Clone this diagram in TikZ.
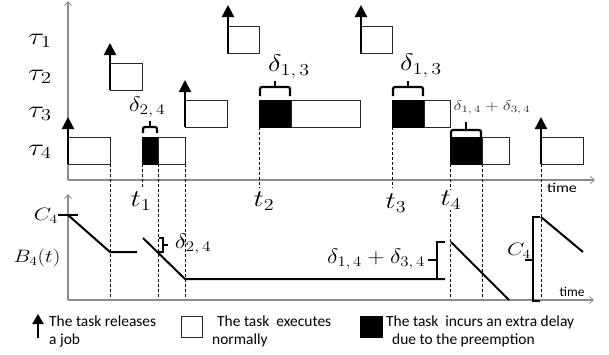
\RequirePackage{fix-cm}
\documentclass[tikz,border=0pt]{standalone}
\usepackage{fontspec}
\setsansfont{Carlito}
\usepackage{graphicx}
\usetikzlibrary{arrows.meta}
\newcommand{\hs}[2][1.25]{\scalebox{#1}[1]{#2}}
\newcommand{\fsz}[1]{\fontsize{#1}{#1}\selectfont}
\tikzset{
  axis/.style={draw=black!45, line width=1.2bp, -{Straight Barb[length=4bp,width=7bp,line width=0.8bp]}},
  tb/.style={draw=black!85, line width=1bp, fill=white},
  bk/.style={draw=black, line width=1bp, fill=black},
  rel/.style={line width=2.2bp, -{Triangle[length=12bp,width=12bp]}},
  dsh/.style={black, line width=0.8bp, dash pattern=on 3bp off 2bp},
  crv/.style={line width=2bp},
  brc/.style={line width=2.2bp, rounded corners=2bp},
  lbl/.style={inner sep=0pt},
  tlbl/.style={inner sep=1bp, fill=white},
  leg/.style={inner sep=0pt, anchor=base west, font=\sffamily\fsz{15.5}},
  tim/.style={inner sep=0pt, font=\sffamily\fsz{13.5}}
}
\begin{document}
\begin{tikzpicture}[x=1bp,y=-1bp]
\useasboundingbox (0,0) rectangle (609,354);
% ---------- top chart
\draw[axis] (68,180) -- (68,1);
\draw[axis] (68,180) -- (595,180);
\node[tim] (time1) at (562,188) {\hs[1.2]{time}};
% task labels
\node[lbl] (tau1) at (40,41) {\fsz{24}\hs{$\tau_1$}};
\node[lbl] (tau2) at (40,77) {\fsz{24}\hs{$\tau_2$}};
\node[lbl] (tau3) at (40,114) {\fsz{24}\hs{$\tau_3$}};
\node[lbl] (tau4) at (40,152) {\fsz{24}\hs{$\tau_4$}};
% dashed guides
\draw[dsh] (110,164) -- (110,300);
\draw[dsh] (142,164) -- (142,188);
\draw[dsh] (158,164) -- (158,300);
\draw[dsh] (185,164) -- (185,300);
\draw[dsh] (259,127) -- (259,188);
\draw[dsh] (392,127) -- (392,188);
\draw[dsh] (450,164) -- (450,300);
\draw[dsh] (482,164) -- (482,300);
\draw[dsh] (541,164) -- (541,300);
% tau4 row
\draw[tb] (68,137) rectangle (110,164);
\draw[bk] (142,137) rectangle (158,164);
\draw[tb] (158,137) rectangle (185,164);
\draw[bk] (450,137) rectangle (482,164);
\draw[tb] (482,137) rectangle (509,164);
\draw[tb] (541,137) rectangle (583,164);
% tau3 row
\draw[tb] (185,100) rectangle (227,127);
\draw[bk] (259,100) rectangle (291,127);
\draw[tb] (291,100) rectangle (360,127);
\draw[bk] (392,100) rectangle (424,127);
\draw[tb] (424,100) rectangle (450,127);
% tau2 row
\draw[tb] (110,63) rectangle (142,90);
% tau1 row
\draw[tb] (227,26) rectangle (259,53);
\draw[tb] (360,26) rectangle (392,53);
% releases
\draw[rel] (68,164) -- (68,117);
\draw[rel] (110,90) -- (110,43);
\draw[rel] (185,127) -- (185,80);
\draw[rel] (228,53) -- (228,5);
\draw[rel] (361,53) -- (361,5);
\draw[rel] (541,164) -- (541,117);
% braces
\draw[brc] (143,133) -- (143,127) -- (157,127) -- (157,133);
\draw[brc] (150,127) -- (150,121);
\draw[brc] (260,96) -- (260,87) -- (290,87) -- (290,96);
\draw[brc] (275,87) -- (275,81);
\draw[brc] (393,96) -- (393,87) -- (423,87) -- (423,96);
\draw[brc] (408,87) -- (408,81);
\draw[brc] (451,137) -- (451,130) -- (481,130) -- (481,137);
\draw[brc] (466,130) -- (466,122);
\node[lbl] (d24) at (147,107) {\fsz{21}\hs[1.2]{$\delta_{2,\,4}$}};
\node[lbl] (d13a) at (289,67) {\fsz{24}\hs[1.2]{$\delta_{1,\,3}$}};
\node[lbl] (d13b) at (421,66) {\fsz{24}\hs[1.2]{$\delta_{1,\,3}$}};
\node[lbl, text=black!80] (d1434) at (492,108) {\fsz{14}\hs[1.3]{$\delta_{1,\,4}+\delta_{3,\,4}$}};
% t labels
\node[tlbl] (t1) at (141,201) {\fsz{24}\hs[1.2]{$t_1$}};
\node[tlbl] (t2) at (264,201) {\fsz{24}\hs[1.2]{$t_2$}};
\node[tlbl] (t3) at (396,203) {\fsz{24}\hs[1.2]{$t_3$}};
\node[tlbl] (t4) at (451,200) {\fsz{24}\hs[1.2]{$t_4$}};
% ---------- bottom chart
\draw[axis] (68,300) -- (68,194);
\draw[axis] (68,300) -- (594,300);
\node[tim] (time2) at (572,292) {time};
\node[lbl] (c4a) at (46,216) {\fsz{18}\hs{$C_4$}};
\node[lbl] (b4) at (37,258) {\fsz{18}\hs[1.2]{$B_4(t)$}};
\draw[crv] (58,215) -- (78,215);
\draw[crv] (68,215) -- (110,252) -- (137,252);
\draw[crv] (143,238) -- (185,279) -- (445,279);
\draw[crv] (445,242) -- (437,242) -- (437,279);
\draw[crv] (437,260) -- (428,260);
\draw[crv] (451,242) -- (509,300);
\draw[crv] (540,217) -- (533,217) -- (533,301) -- (540,301);
\draw[crv] (533,260) -- (525,260);
\draw[crv] (541,217) -- (583,252);
\draw[crv] (159,238) -- (163,238) -- (163,252) -- (159,252);
\draw[crv] (163,245) -- (168,245);
\node[lbl] (d24b) at (193,244) {\fsz{21}\hs[1.2]{$\delta_{2,\,4}$}};
\node[lbl] (d1434b) at (376,259) {\fsz{21}\hs[1.15]{$\delta_{1,\,4}+\delta_{3,\,4}$}};
\node[lbl] (c4b) at (519,251) {\fsz{18}\hs{$C_4$}};
% ---------- legend
\draw[line width=2.2bp, -{Triangle[length=10bp,width=11bp]}] (38,338) -- (38,314);
\node[leg] (l1a) at (49,326) {The task releases};
\node[leg] (l1b) at (49,344) {a job};
\draw[tb] (181,316) rectangle (202,337);
\node[leg] (l2a) at (217,326) {The task\ \ executes};
\node[leg] (l2b) at (212,344) {normally};
\draw[bk] (360,316) rectangle (382,337);
\node[leg] (l3a) at (386,326) {The task\ \ incurs an extra delay};
\node[leg] (l3b) at (392,344) {due to the preemption};
\end{tikzpicture}
\end{document}
